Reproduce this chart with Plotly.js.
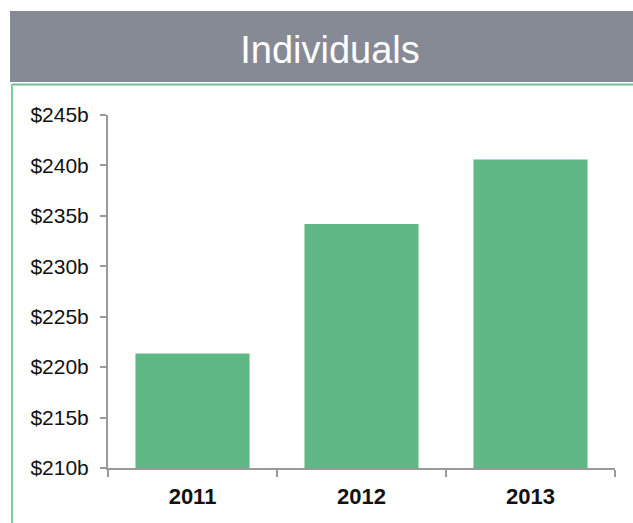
<!DOCTYPE html>
<html>
<head>
<meta charset="utf-8">
<script src="https://cdn.plot.ly/plotly-3.0.1.min.js"></script>
<style>html,body{margin:0;padding:0;background:#fff;}#chart{width:633px;height:523px;}</style>
</head>
<body>
<div id="chart"></div>
<script>
const years = ['2011', '2012', '2013'];
const amounts = [221.35, 234.2, 240.6];
const titleText = 'Individuals';

const W = 633, H = 523;
const L = 108, R = 18, T = 115, B = 55;
const pw = W - L - R, ph = H - T - B;
const px = v => (v - L) / pw;
const py = v => (H - B - v) / ph;

const barColor = '#5fb885';
const axisColor = '#9a9a9a';

const trace = {
  type: 'bar',
  x: years,
  y: amounts,
  marker: { color: barColor, line: { width: 0 } },
  width: 0.675,
  hoverinfo: 'skip'
};

const layout = {
  width: W, height: H,
  margin: { l: L, r: R, t: T, b: B, pad: 0 },
  paper_bgcolor: '#ffffff',
  plot_bgcolor: '#ffffff',
  showlegend: false,
  title: {
    text: titleText,
    font: { family: 'Liberation Sans, Arial, sans-serif', size: 38, color: '#ffffff' },
    xref: 'container', yref: 'container',
    x: 330 / W, y: 1 - 50 / H,
    xanchor: 'center', yanchor: 'middle'
  },
  xaxis: {
    type: 'category',
    showgrid: false,
    zeroline: false,
    showline: true,
    linecolor: axisColor,
    linewidth: 2,
    ticks: 'outside',
    tickson: 'boundaries',
    ticklen: 7,
    tickwidth: 2,
    tickcolor: axisColor,
    ticklabelstandoff: 8,
    tickfont: { family: 'Liberation Sans, Arial, sans-serif', size: 22, color: '#111111', weight: 'bold' },
    fixedrange: true
  },
  yaxis: {
    range: [210, 245],
    dtick: 5,
    tick0: 210,
    tickprefix: '$',
    ticksuffix: 'b',
    showgrid: false,
    zeroline: false,
    showline: true,
    linecolor: axisColor,
    linewidth: 2,
    ticks: 'outside',
    ticklen: 6,
    tickwidth: 2,
    tickcolor: axisColor,
    ticklabelstandoff: 7,
    tickfont: { family: 'Liberation Sans, Arial, sans-serif', size: 21, color: '#111111' },
    fixedrange: true
  },
  shapes: [
    { type: 'rect', xref: 'paper', yref: 'paper', layer: 'below',
      x0: px(10), x1: px(640), y0: py(82), y1: py(11),
      fillcolor: '#858a95', line: { width: 0 } },
    { type: 'line', xref: 'paper', yref: 'paper', layer: 'below',
      x0: px(12), x1: px(640), y0: py(84.5), y1: py(84.5),
      line: { color: '#6cc08e', width: 2 } },
    { type: 'line', xref: 'paper', yref: 'paper', layer: 'below',
      x0: px(12), x1: px(12), y0: py(84), y1: py(530),
      line: { color: '#7dca9b', width: 2 } }
  ]
};

Plotly.newPlot('chart', [trace], layout, { displayModeBar: false, staticPlot: true });
</script>
</body>
</html>
